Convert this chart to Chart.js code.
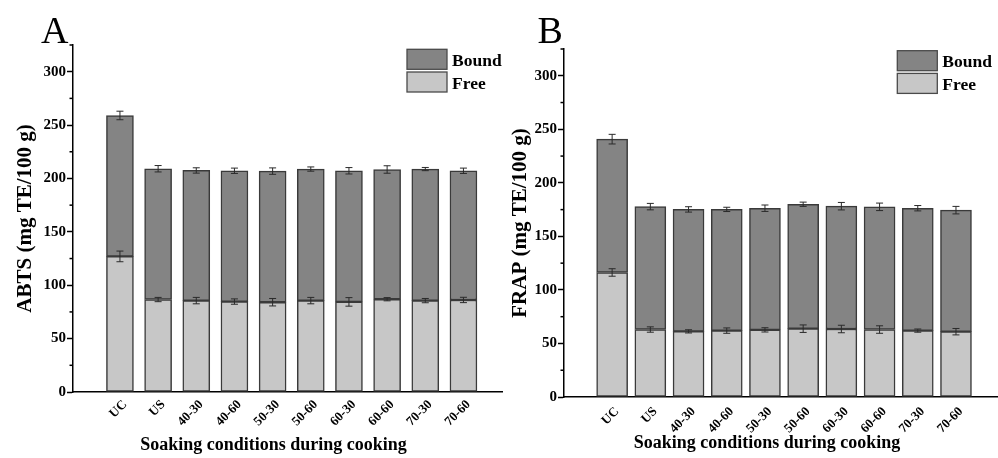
<!DOCTYPE html>
<html>
<head>
<meta charset="utf-8">
<script src="https://cdn.jsdelivr.net/npm/chart.js@4.4.1/dist/chart.umd.min.js"></script>
<style>
  body { margin: 0; background: #fff; }
  #wrap { position: relative; width: 998px; height: 458px; overflow: hidden; }
  canvas { position: absolute; top: 0; }
  #chartA { left: 0; }
  #chartB { left: 505px; }
</style>
</head>
<body>
<div id="wrap">
  <canvas id="chartA" width="505" height="458"></canvas>
  <canvas id="chartB" width="493" height="458"></canvas>
</div>
<script>
const categories = ['UC', 'US', '40-30', '40-60', '50-30', '50-60', '60-30', '60-60', '70-30', '70-60'];

// A: ABTS (mg TE/100 g)
const abtsFree     = [127, 86.6, 85.6, 84.7, 84.1, 85.6, 84.4, 86.9, 85.6, 86.2];
const abtsBound    = [132, 122.5, 121.9, 122.5, 122.8, 123.2, 122.8, 121.5, 123.2, 121];
const abtsFreeErr  = [5, 2, 3, 2.5, 3.5, 3, 4, 1.5, 2, 2.5];
const abtsTotalErr = [4, 3, 2.5, 2.5, 3, 2, 3, 3.5, 1.5, 2.5];

// B: FRAP (mg TE/100 g)
const frapFree     = [116.3, 63, 61.3, 62, 62.7, 63.8, 63.5, 63, 62, 61];
const frapBound    = [124.5, 114.8, 113.9, 113.2, 113.6, 116.2, 114.7, 114.6, 114.3, 113.5];
const frapFreeErr  = [3.5, 2.5, 1.5, 2.5, 2, 3.5, 3.5, 3.5, 1.5, 3];
const frapTotalErr = [4.5, 3, 2.5, 2, 3, 2, 3.5, 3.5, 2.5, 3.5];

const yMax = 325;
const yMajor = 50;
const yMinor = 25;

const SERIF = '"Liberation Serif", "Times New Roman", serif';
const BOUND_COLOR = '#848484';
const FREE_COLOR = '#c7c7c7';
const EDGE = '#3a3a3a';

// error bars at the top of each stacked segment
const errorBars = {
  id: 'errorBars',
  afterDatasetsDraw(chart) {
    const {ctx, scales: {y}} = chart;
    ctx.save();
    ctx.strokeStyle = '#2a2a2a';
    ctx.lineWidth = 1;
    chart.data.datasets.forEach((ds, di) => {
      chart.getDatasetMeta(di).data.forEach((bar, i) => {
        const top = y.getValueForPixel(bar.y);
        const e = ds.errors[i];
        const y1 = y.getPixelForValue(top + e), y2 = y.getPixelForValue(top - e);
        ctx.beginPath();
        ctx.moveTo(bar.x, y1); ctx.lineTo(bar.x, y2);
        ctx.moveTo(bar.x - 3.5, y1); ctx.lineTo(bar.x + 3.5, y1);
        ctx.moveTo(bar.x - 3.5, y2); ctx.lineTo(bar.x + 3.5, y2);
        ctx.stroke();
      });
    });
    ctx.restore();
  }
};

// short minor ticks on the y axis
const minorTicks = {
  id: 'minorTicks',
  afterDraw(chart) {
    const {ctx, scales: {y}, chartArea} = chart;
    ctx.save();
    ctx.strokeStyle = '#000';
    ctx.lineWidth = 1.5;
    for (let v = yMinor; v <= yMax; v += yMajor) {
      const py = y.getPixelForValue(v);
      ctx.beginPath();
      ctx.moveTo(chartArea.left - 3.5, py);
      ctx.lineTo(chartArea.left, py);
      ctx.stroke();
    }
    ctx.restore();
  }
};

// stacked legend, panel letter and x title
const decor = {
  id: 'decor',
  afterDraw(chart, args, o) {
    const {ctx, chartArea} = chart;
    ctx.save();
    chart.data.datasets.slice().reverse().forEach((ds, i) => {
      const top = o.legendY + i * 22.7;
      ctx.fillStyle = ds.backgroundColor;
      ctx.fillRect(o.legendX, top, 40, 20);
      ctx.strokeStyle = '#4a4a4a';
      ctx.lineWidth = 1.3;
      ctx.strokeRect(o.legendX, top, 40, 20);
      ctx.fillStyle = '#000';
      ctx.font = 'bold 17.5px ' + SERIF;
      ctx.textBaseline = 'alphabetic';
      ctx.textAlign = 'left';
      ctx.fillText(ds.label, o.legendX + 45, top + 16.5);
    });
    ctx.font = '38px ' + SERIF;
    ctx.fillText(o.tag, o.tagX, 42.5);
    ctx.font = 'bold 18px ' + SERIF;
    ctx.textAlign = 'center';
    ctx.fillText('Soaking conditions during cooking', (chartArea.left + chartArea.right) / 2 - 14, o.titleY);
    ctx.restore();
  }
};

function makePanel(id, p) {
  const yTickFont = { family: SERIF, size: 15, weight: 'bold' };
  const xTickFont = { family: SERIF, size: 13, weight: 'bold' };
  new Chart(document.getElementById(id), {
    type: 'bar',
    data: {
      datasets: [
        { label: 'Free', data: p.free.map((v, i) => ({ x: i, y: v })), errors: p.freeErr,
          backgroundColor: FREE_COLOR, borderColor: EDGE, borderWidth: 1.5, borderSkipped: false, barThickness: p.barW },
        { label: 'Bound', data: p.bound.map((v, i) => ({ x: i, y: v })), errors: p.totalErr,
          backgroundColor: BOUND_COLOR, borderColor: EDGE, borderWidth: 1.5, borderSkipped: false, barThickness: p.barW }
      ]
    },
    options: {
      responsive: false,
      animation: false,
      layout: { padding: { top: p.top, right: p.right, left: 0, bottom: 0 } },
      plugins: {
        legend: { display: false },
        tooltip: { enabled: false },
        decor: p.decor
      },
      scales: {
        x: {
          type: 'linear', stacked: true, offset: false,
          min: p.xMin, max: p.xMax,
          afterBuildTicks: s => { s.ticks = categories.map((c, i) => ({ value: i })); },
          afterFit: s => { s.height = p.xAxisH; },
          ticks: { autoSkip: false, minRotation: 45, maxRotation: 45, padding: p.labelPad, labelOffset: 5,
                   color: '#000', font: xTickFont, callback: v => categories[v] },
          grid: { display: false, drawTicks: false, offset: false },
          border: { color: '#000', width: 1.5 }
        },
        y: {
          stacked: true, min: 0, max: yMax,
          afterFit: s => { s.width = p.yAxisW; },
          ticks: { stepSize: yMajor, includeBounds: false, padding: 1, color: '#000', font: yTickFont },
          grid: { drawOnChartArea: false, tickLength: 6, tickColor: '#000', tickWidth: 1.5 },
          border: { color: '#000', width: 1.5 },
          title: { display: true, text: p.yTitle, color: '#000', padding: { top: p.yTitlePad, bottom: 0 },
                   font: { family: SERIF, size: 21, weight: 'bold', lineHeight: 1.2 } }
        }
      }
    },
    plugins: [errorBars, minorTicks, decor]
  });
}

makePanel('chartA', {
  free: abtsFree, bound: abtsBound, freeErr: abtsFreeErr, totalErr: abtsTotalErr,
  yTitle: 'ABTS (mg TE/100 g)', yTitlePad: 13, barW: 27, labelPad: 5,
  top: 45, right: 3, xAxisH: 66, yAxisW: 73, xMin: -1.23, xMax: 10.01,
  decor: { tag: 'A', tagX: 41, legendX: 407, legendY: 49.3, titleY: 450 }
});

makePanel('chartB', {
  free: frapFree, bound: frapBound, freeErr: frapFreeErr, totalErr: frapTotalErr,
  yTitle: 'FRAP (mg TE/100 g)', yTitlePad: 3, barW: 31, labelPad: 7,
  top: 49, right: 0, xAxisH: 61, yAxisW: 59, xMin: -1.26, xMax: 10.1,
  decor: { tag: 'B', tagX: 32.5, legendX: 392.3, legendY: 50.7, titleY: 448 }
});
</script>
</body>
</html>
